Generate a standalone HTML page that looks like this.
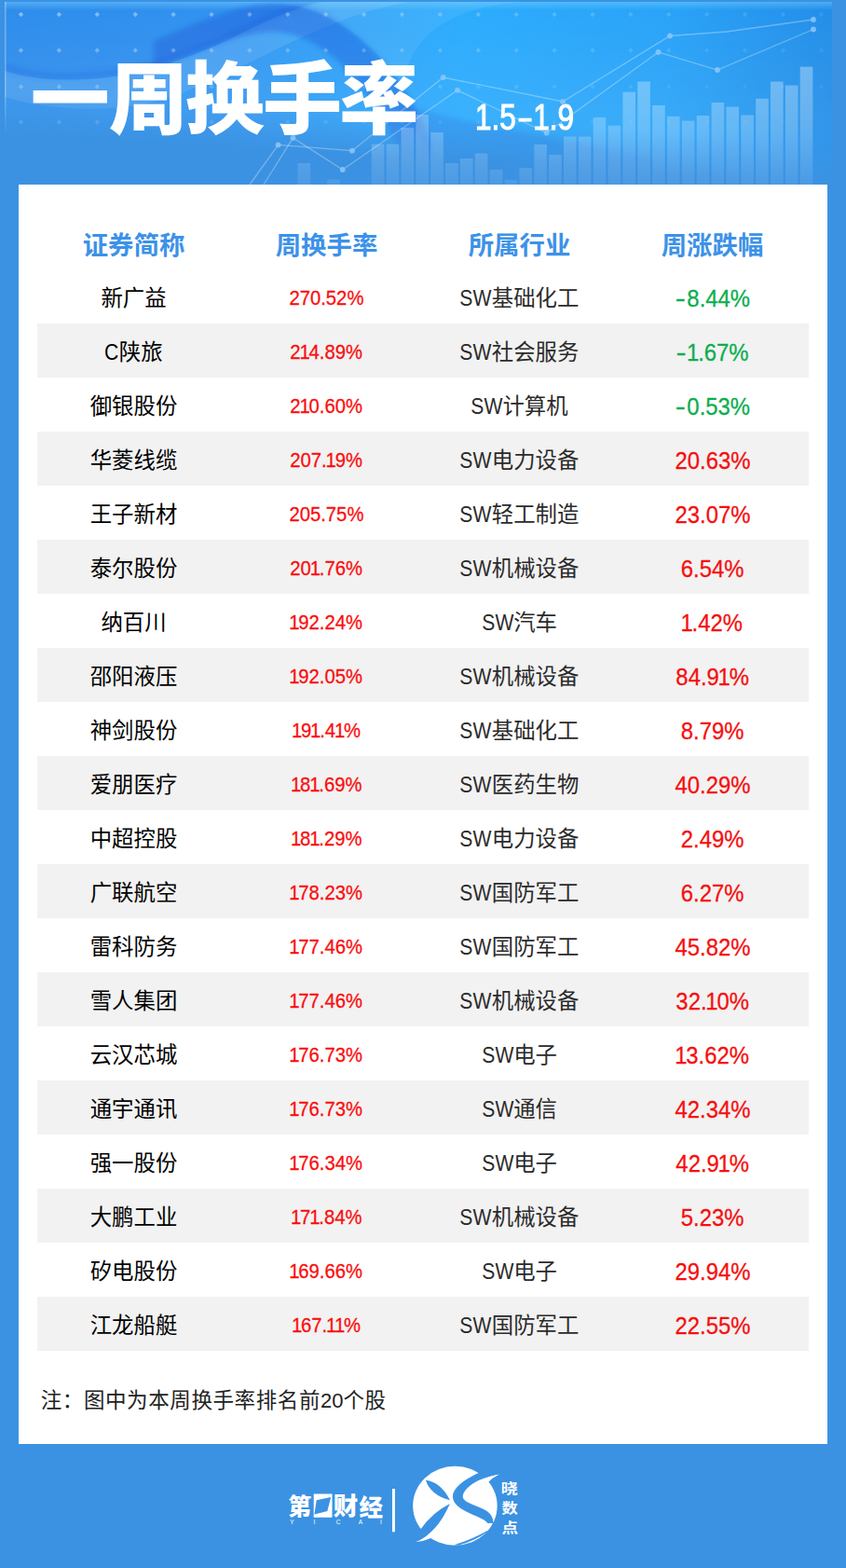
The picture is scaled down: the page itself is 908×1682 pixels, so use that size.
<!DOCTYPE html>
<html lang="zh-CN"><head><meta charset="utf-8"><title>一周换手率 1.5-1.9</title>
<style>
*{margin:0;padding:0;box-sizing:border-box}
html,body{width:908px;height:1682px;overflow:hidden}
body{position:relative;background:#3b92e2;font-family:"Liberation Sans","Noto Sans CJK SC",sans-serif;color:#111}
.vh{position:absolute;width:1px;height:1px;overflow:hidden;clip:rect(0 0 0 0);white-space:nowrap}
#banner{position:absolute;left:0;top:0;width:908px;height:200px}
#title{position:absolute;left:0;top:0;width:470px;height:200px;color:#fff;line-height:0}
#date{position:absolute;left:509.5px;top:104px;color:#fff;font-size:38px;-webkit-text-stroke:1.1px #fff;line-height:44px;white-space:nowrap;transform-origin:0 50%;transform:scaleX(.83)}
#card{position:absolute;left:20px;top:198px;width:868px;height:1351px;background:#fff}
.row{position:absolute;left:20px;width:828px;height:58px;display:flex}
.row.z{background:#f2f2f2}
.row>div{width:207px;height:58px;line-height:58px;text-align:center;white-space:nowrap;position:relative;top:2px}
.hd{color:#3c92e8;font-size:27.4px;font-weight:bold}
.c1{font-size:23.4px;color:#000}
.c2{font-size:22.5px;color:#fb0d0d;-webkit-text-stroke:.3px #fb0d0d}
.c2 span{display:inline-block;transform:scaleX(.9)}
.c3{font-size:23.4px;color:#2b2b2b}
.c4{font-size:26.5px;color:#f60f0f;-webkit-text-stroke:.3px currentColor}
.c4 span{display:inline-block;transform:scaleX(.9)}
.c4 b{font-weight:normal;display:inline-block;transform:scaleX(1.4);margin:0 3.5px 0 2px}
.c2 i,.c4 i{font-style:normal;margin:0 -1.3px}
.c3 .l,.c1 .l{font-size:24px;display:inline-block;transform:scaleX(.88);margin:0 -2.3px}
.c1 .l{margin:0 -1px}
.c4.dn{color:#0cae4e}
#note{position:absolute;left:23.7px;top:1290px;font-size:22.5px;letter-spacing:.6px;line-height:30px;color:#222;white-space:nowrap}
#note .l{font-size:22px;letter-spacing:0}
#date span{display:inline-block;transform:scaleX(.75);margin:0 -.5px 0 1.5px}
#logo{position:absolute;left:290px;top:1560px;width:300px;height:122px}
</style></head>
<body>
<svg id="banner" viewBox="0 0 908 200" aria-hidden="true">
<defs>
<linearGradient id="bg" x1="0" x2="1" y1="0" y2="0"><stop offset="0" stop-color="#3091ee"/><stop offset=".28" stop-color="#3598f2"/><stop offset=".55" stop-color="#2cacfd"/><stop offset=".8" stop-color="#29a3f8"/><stop offset="1" stop-color="#238ee8"/></linearGradient>
<linearGradient id="fade" gradientUnits="userSpaceOnUse" x1="450" y1="126" x2="447.4" y2="170"><stop offset="0" stop-color="#3b92e2" stop-opacity="0"/><stop offset="1" stop-color="#3b92e2" stop-opacity="1"/></linearGradient>
<linearGradient id="hm" x1="0" x2="1" y1="0" y2="0"><stop offset="0" stop-color="#fff"/><stop offset=".4" stop-color="#fff"/><stop offset=".7" stop-color="#999"/><stop offset="1" stop-color="#aaa"/></linearGradient>
<mask id="fm"><rect x="0" y="0" width="908" height="200" fill="url(#hm)"/></mask>
<linearGradient id="barg" gradientUnits="userSpaceOnUse" x1="0" x2="0" y1="70" y2="198"><stop offset="0" stop-color="#fff" stop-opacity=".33"/><stop offset=".55" stop-color="#fff" stop-opacity=".23"/><stop offset="1" stop-color="#fff" stop-opacity=".08"/></linearGradient>
<filter id="bl" x="-10%" y="-10%" width="120%" height="120%"><feGaussianBlur stdDeviation="2.5"/></filter>
<linearGradient id="vl" gradientUnits="userSpaceOnUse" x1="0" x2="0" y1="2" y2="120"><stop offset="0" stop-color="#fff" stop-opacity="0"/><stop offset="1" stop-color="#fff" stop-opacity=".07"/></linearGradient>
<linearGradient id="tl" x1="0" x2="0" y1="0" y2="1"><stop offset="0" stop-color="#7fd4ff" stop-opacity=".45"/><stop offset="1" stop-color="#7fd4ff" stop-opacity="0"/></linearGradient>
<clipPath id="bc"><rect x="5" y="2" width="888" height="196"/></clipPath>
</defs>
<rect x="5" y="2" width="888" height="196" fill="url(#bg)"/>
<g clip-path="url(#bc)">
<path d="M5 76C30 84 60 87 90 85C140 83 190 68 240 45C275 28 310 10 344 2L5 2Z" fill="#1f6fe0" opacity=".1"/>
<path d="M5 72C30 80 60 83 90 81C140 79 190 64 240 41C275 24 310 7 344 -1" fill="none" stroke="#1a60dc" stroke-width="7" opacity=".3" filter="url(#bl)"/>
<rect x="5" y="2" width="888" height="9" fill="url(#tl)"/>
<path d="M5 76C30 84 60 87 90 85C140 83 190 68 240 45C275 28 310 10 344 2L440 2C360 14 290 60 200 98C130 126 50 118 5 104Z" fill="#fff" opacity=".10"/>
<g filter="url(#bl)"><path d="M165 44C205 28 250 6 295 3C350 2 397 43 432 93C452 123 467 158 477 200L443 200C433 165 418 137 398 107C368 64 335 36 295 34C255 34 210 56 165 72Z" fill="#1250d8" opacity=".38"/><path d="M425 108C470 128 560 140 700 170L700 200L472 200C460 165 445 135 425 108Z" fill="#1c62d8" opacity=".24"/></g>
<path d="M240 2L560 2C480 8 440 40 432 92C400 45 350 4 295 4Z" fill="#fff" opacity=".07"/>
<rect x="5" y="2" width="888" height="196" fill="url(#vl)"/>
<rect x="5" y="2" width="1.6" height="150" fill="#fff" opacity=".3"/>
</g>
<rect x="5" y="2" width="888" height="196" fill="url(#fade)"/>
<g fill="#fff"><path d="M22.5 12.8l2.7 2.7-2.7 2.7-2.7-2.7z" opacity="0.42"/><path d="M63.4 12.8l2.7 2.7-2.7 2.7-2.7-2.7z" opacity="0.4"/><path d="M104.3 12.8l2.7 2.7-2.7 2.7-2.7-2.7z" opacity="0.39"/><path d="M145.2 12.8l2.7 2.7-2.7 2.7-2.7-2.7z" opacity="0.37"/><path d="M186.1 12.8l2.7 2.7-2.7 2.7-2.7-2.7z" opacity="0.36"/><path d="M227 12.8l2.7 2.7-2.7 2.7-2.7-2.7z" opacity="0.34"/><path d="M267.9 12.8l2.7 2.7-2.7 2.7-2.7-2.7z" opacity="0.32"/><path d="M308.8 12.8l2.7 2.7-2.7 2.7-2.7-2.7z" opacity="0.31"/><path d="M349.7 12.8l2.7 2.7-2.7 2.7-2.7-2.7z" opacity="0.29"/><path d="M390.6 12.8l2.7 2.7-2.7 2.7-2.7-2.7z" opacity="0.28"/><path d="M431.5 12.8l2.7 2.7-2.7 2.7-2.7-2.7z" opacity="0.26"/><path d="M472.4 12.8l2.7 2.7-2.7 2.7-2.7-2.7z" opacity="0.24"/><path d="M513.3 12.8l2.7 2.7-2.7 2.7-2.7-2.7z" opacity="0.23"/><path d="M554.2 12.8l2.7 2.7-2.7 2.7-2.7-2.7z" opacity="0.21"/><path d="M595.1 12.8l2.7 2.7-2.7 2.7-2.7-2.7z" opacity="0.2"/><path d="M636 12.8l2.7 2.7-2.7 2.7-2.7-2.7z" opacity="0.18"/><path d="M676.9 12.8l2.7 2.7-2.7 2.7-2.7-2.7z" opacity="0.16"/><path d="M717.8 12.8l2.7 2.7-2.7 2.7-2.7-2.7z" opacity="0.15"/><path d="M758.7 12.8l2.7 2.7-2.7 2.7-2.7-2.7z" opacity="0.13"/><path d="M799.6 12.8l2.7 2.7-2.7 2.7-2.7-2.7z" opacity="0.12"/><path d="M840.5 12.8l2.7 2.7-2.7 2.7-2.7-2.7z" opacity="0.1"/><path d="M881.4 12.8l2.7 2.7-2.7 2.7-2.7-2.7z" opacity="0.08"/><path d="M22.5 51.3l2.7 2.7-2.7 2.7-2.7-2.7z" opacity="0.33"/><path d="M63.4 51.3l2.7 2.7-2.7 2.7-2.7-2.7z" opacity="0.32"/><path d="M104.3 51.3l2.7 2.7-2.7 2.7-2.7-2.7z" opacity="0.3"/><path d="M145.2 51.3l2.7 2.7-2.7 2.7-2.7-2.7z" opacity="0.29"/><path d="M186.1 51.3l2.7 2.7-2.7 2.7-2.7-2.7z" opacity="0.28"/><path d="M227 51.3l2.7 2.7-2.7 2.7-2.7-2.7z" opacity="0.27"/><path d="M267.9 51.3l2.7 2.7-2.7 2.7-2.7-2.7z" opacity="0.25"/><path d="M308.8 51.3l2.7 2.7-2.7 2.7-2.7-2.7z" opacity="0.24"/><path d="M349.7 51.3l2.7 2.7-2.7 2.7-2.7-2.7z" opacity="0.23"/><path d="M390.6 51.3l2.7 2.7-2.7 2.7-2.7-2.7z" opacity="0.22"/><path d="M431.5 51.3l2.7 2.7-2.7 2.7-2.7-2.7z" opacity="0.2"/><path d="M472.4 51.3l2.7 2.7-2.7 2.7-2.7-2.7z" opacity="0.19"/><path d="M513.3 51.3l2.7 2.7-2.7 2.7-2.7-2.7z" opacity="0.18"/><path d="M554.2 51.3l2.7 2.7-2.7 2.7-2.7-2.7z" opacity="0.17"/><path d="M595.1 51.3l2.7 2.7-2.7 2.7-2.7-2.7z" opacity="0.15"/><path d="M636 51.3l2.7 2.7-2.7 2.7-2.7-2.7z" opacity="0.14"/><path d="M676.9 51.3l2.7 2.7-2.7 2.7-2.7-2.7z" opacity="0.13"/><path d="M717.8 51.3l2.7 2.7-2.7 2.7-2.7-2.7z" opacity="0.12"/><path d="M758.7 51.3l2.7 2.7-2.7 2.7-2.7-2.7z" opacity="0.1"/><path d="M799.6 51.3l2.7 2.7-2.7 2.7-2.7-2.7z" opacity="0.09"/><path d="M840.5 51.3l2.7 2.7-2.7 2.7-2.7-2.7z" opacity="0.08"/><path d="M881.4 51.3l2.7 2.7-2.7 2.7-2.7-2.7z" opacity="0.07"/><path d="M22.5 90.3l2.7 2.7-2.7 2.7-2.7-2.7z" opacity="0.24"/><path d="M63.4 90.3l2.7 2.7-2.7 2.7-2.7-2.7z" opacity="0.23"/><path d="M104.3 90.3l2.7 2.7-2.7 2.7-2.7-2.7z" opacity="0.22"/><path d="M145.2 90.3l2.7 2.7-2.7 2.7-2.7-2.7z" opacity="0.21"/><path d="M186.1 90.3l2.7 2.7-2.7 2.7-2.7-2.7z" opacity="0.2"/><path d="M227 90.3l2.7 2.7-2.7 2.7-2.7-2.7z" opacity="0.19"/><path d="M267.9 90.3l2.7 2.7-2.7 2.7-2.7-2.7z" opacity="0.18"/><path d="M308.8 90.3l2.7 2.7-2.7 2.7-2.7-2.7z" opacity="0.17"/><path d="M349.7 90.3l2.7 2.7-2.7 2.7-2.7-2.7z" opacity="0.16"/><path d="M390.6 90.3l2.7 2.7-2.7 2.7-2.7-2.7z" opacity="0.15"/><path d="M431.5 90.3l2.7 2.7-2.7 2.7-2.7-2.7z" opacity="0.15"/><path d="M472.4 90.3l2.7 2.7-2.7 2.7-2.7-2.7z" opacity="0.14"/><path d="M513.3 90.3l2.7 2.7-2.7 2.7-2.7-2.7z" opacity="0.13"/><path d="M554.2 90.3l2.7 2.7-2.7 2.7-2.7-2.7z" opacity="0.12"/><path d="M595.1 90.3l2.7 2.7-2.7 2.7-2.7-2.7z" opacity="0.11"/><path d="M636 90.3l2.7 2.7-2.7 2.7-2.7-2.7z" opacity="0.1"/><path d="M676.9 90.3l2.7 2.7-2.7 2.7-2.7-2.7z" opacity="0.09"/><path d="M717.8 90.3l2.7 2.7-2.7 2.7-2.7-2.7z" opacity="0.08"/><path d="M758.7 90.3l2.7 2.7-2.7 2.7-2.7-2.7z" opacity="0.07"/><path d="M799.6 90.3l2.7 2.7-2.7 2.7-2.7-2.7z" opacity="0.06"/><path d="M840.5 90.3l2.7 2.7-2.7 2.7-2.7-2.7z" opacity="0.06"/><path d="M881.4 90.3l2.7 2.7-2.7 2.7-2.7-2.7z" opacity="0.05"/><path d="M22.5 128.3l2.7 2.7-2.7 2.7-2.7-2.7z" opacity="0.14"/><path d="M63.4 128.3l2.7 2.7-2.7 2.7-2.7-2.7z" opacity="0.14"/><path d="M104.3 128.3l2.7 2.7-2.7 2.7-2.7-2.7z" opacity="0.13"/><path d="M145.2 128.3l2.7 2.7-2.7 2.7-2.7-2.7z" opacity="0.13"/><path d="M186.1 128.3l2.7 2.7-2.7 2.7-2.7-2.7z" opacity="0.12"/><path d="M227 128.3l2.7 2.7-2.7 2.7-2.7-2.7z" opacity="0.12"/><path d="M267.9 128.3l2.7 2.7-2.7 2.7-2.7-2.7z" opacity="0.11"/><path d="M308.8 128.3l2.7 2.7-2.7 2.7-2.7-2.7z" opacity="0.1"/><path d="M349.7 128.3l2.7 2.7-2.7 2.7-2.7-2.7z" opacity="0.1"/><path d="M390.6 128.3l2.7 2.7-2.7 2.7-2.7-2.7z" opacity="0.09"/><path d="M431.5 128.3l2.7 2.7-2.7 2.7-2.7-2.7z" opacity="0.09"/><path d="M472.4 128.3l2.7 2.7-2.7 2.7-2.7-2.7z" opacity="0.08"/><path d="M513.3 128.3l2.7 2.7-2.7 2.7-2.7-2.7z" opacity="0.08"/><path d="M554.2 128.3l2.7 2.7-2.7 2.7-2.7-2.7z" opacity="0.07"/><path d="M595.1 128.3l2.7 2.7-2.7 2.7-2.7-2.7z" opacity="0.07"/><path d="M636 128.3l2.7 2.7-2.7 2.7-2.7-2.7z" opacity="0.06"/><path d="M676.9 128.3l2.7 2.7-2.7 2.7-2.7-2.7z" opacity="0.06"/><path d="M717.8 128.3l2.7 2.7-2.7 2.7-2.7-2.7z" opacity="0.05"/><path d="M758.7 128.3l2.7 2.7-2.7 2.7-2.7-2.7z" opacity="0.04"/><path d="M799.6 128.3l2.7 2.7-2.7 2.7-2.7-2.7z" opacity="0.04"/><path d="M840.5 128.3l2.7 2.7-2.7 2.7-2.7-2.7z" opacity="0.03"/></g>
<g fill="url(#barg)"><rect x="319.5" y="175" width="13.6" height="23"/><rect x="351.22" y="192.6" width="13.6" height="5.4"/><rect x="398.8" y="154.6" width="13.6" height="43.4"/><rect x="414.66" y="154.6" width="13.6" height="43.4"/><rect x="430.52" y="137" width="13.6" height="61"/><rect x="446.38" y="123" width="13.6" height="75"/><rect x="462.24" y="142" width="13.6" height="56"/><rect x="478.1" y="175" width="13.6" height="23"/><rect x="493.96" y="170" width="13.6" height="28"/><rect x="509.82" y="164.5" width="13.6" height="33.5"/><rect x="525.68" y="182" width="13.6" height="16"/><rect x="541.54" y="193" width="13.6" height="5"/><rect x="557.4" y="180" width="13.6" height="18"/><rect x="573.26" y="155" width="13.6" height="43"/><rect x="589.12" y="166" width="13.6" height="32"/><rect x="604.98" y="146.5" width="13.6" height="51.5"/><rect x="620.84" y="146.5" width="13.6" height="51.5"/><rect x="636.7" y="126" width="13.6" height="72"/><rect x="652.56" y="134.7" width="13.6" height="63.3"/><rect x="668.42" y="98.7" width="13.6" height="99.3"/><rect x="684.28" y="87.5" width="13.6" height="110.5"/><rect x="700.14" y="113" width="13.6" height="85"/><rect x="716" y="124.8" width="13.6" height="73.2"/><rect x="731.86" y="129.6" width="13.6" height="68.4"/><rect x="747.72" y="124" width="13.6" height="74"/><rect x="763.58" y="110" width="13.6" height="88"/><rect x="779.44" y="114.6" width="13.6" height="83.4"/><rect x="795.3" y="123.5" width="13.6" height="74.5"/><rect x="811.16" y="105.8" width="13.6" height="92.2"/><rect x="827.02" y="87.5" width="13.6" height="110.5"/><rect x="842.88" y="91.6" width="13.6" height="106.4"/><rect x="858.74" y="71.6" width="13.6" height="126.4"/></g>
<g fill="none" stroke="#fff" stroke-opacity=".3" stroke-width="1.3"><polyline points="268,198 298.6,155.4 378,161.7 475.7,83 604,109 719,38.5 780,34 873,21"/><polyline points="283,198 314.5,148 367.7,182 491,96.8 586.6,142.5 706.5,56 770,75 873,31.5"/></g>
<g fill="#8cc6fa" opacity=".85"><circle cx="298.6" cy="155.4" r="2.9"/><circle cx="378" cy="161.7" r="2.9"/><circle cx="475.7" cy="83" r="2.9"/><circle cx="604" cy="109" r="2.9"/><circle cx="719" cy="38.5" r="2.9"/><circle cx="873" cy="21" r="2.9"/><circle cx="314.5" cy="148" r="2.9"/><circle cx="367.7" cy="182" r="2.9"/><circle cx="491" cy="96.8" r="2.9"/><circle cx="586.6" cy="142.5" r="2.9"/><circle cx="706.5" cy="56" r="2.9"/><circle cx="770" cy="75" r="2.9"/><circle cx="873" cy="31.5" r="2.9"/></g>
</svg>
<h1 id="title"><svg width="470" height="200" viewBox="0 0 470 200" fill="#fff"><text x="32.7 116.8 199 282 364.2" y="137" font-size="85" font-weight="900" font-family="'Liberation Sans','Noto Sans CJK SC',sans-serif" fill="#fff">一周换手率</text></svg></h1>
<div id="date">1.5<span>–</span>1.9</div>
<div id="card">
<div class="row" style="top:34.7px"><div class="hd">证券简称</div><div class="hd">周换手率</div><div class="hd">所属行业</div><div class="hd">周涨跌幅</div></div>
<div class="row" style="top:91px"><div class="c1">新广益</div><div class="c2"><span>270.52%</span></div><div class="c3"><span class="l">SW</span>基础化工</div><div class="c4 dn"><span><b>-</b>8.44%</span></div></div>
<div class="row z" style="top:149px"><div class="c1"><span class="l">C</span>陕旅</div><div class="c2"><span>2<i>1</i>4.89%</span></div><div class="c3"><span class="l">SW</span>社会服务</div><div class="c4 dn"><span><b>-</b><i>1</i>.67%</span></div></div>
<div class="row" style="top:207px"><div class="c1">御银股份</div><div class="c2"><span>2<i>1</i>0.60%</span></div><div class="c3"><span class="l">SW</span>计算机</div><div class="c4 dn"><span><b>-</b>0.53%</span></div></div>
<div class="row z" style="top:265px"><div class="c1">华菱线缆</div><div class="c2"><span>207.<i>1</i>9%</span></div><div class="c3"><span class="l">SW</span>电力设备</div><div class="c4"><span>20.63%</span></div></div>
<div class="row" style="top:323px"><div class="c1">王子新材</div><div class="c2"><span>205.75%</span></div><div class="c3"><span class="l">SW</span>轻工制造</div><div class="c4"><span>23.07%</span></div></div>
<div class="row z" style="top:381px"><div class="c1">泰尔股份</div><div class="c2"><span>20<i>1</i>.76%</span></div><div class="c3"><span class="l">SW</span>机械设备</div><div class="c4"><span>6.54%</span></div></div>
<div class="row" style="top:439px"><div class="c1">纳百川</div><div class="c2"><span><i>1</i>92.24%</span></div><div class="c3"><span class="l">SW</span>汽车</div><div class="c4"><span><i>1</i>.42%</span></div></div>
<div class="row z" style="top:497px"><div class="c1">邵阳液压</div><div class="c2"><span><i>1</i>92.05%</span></div><div class="c3"><span class="l">SW</span>机械设备</div><div class="c4"><span>84.9<i>1</i>%</span></div></div>
<div class="row" style="top:555px"><div class="c1">神剑股份</div><div class="c2"><span><i>1</i>9<i>1</i>.4<i>1</i>%</span></div><div class="c3"><span class="l">SW</span>基础化工</div><div class="c4"><span>8.79%</span></div></div>
<div class="row z" style="top:613px"><div class="c1">爱朋医疗</div><div class="c2"><span><i>1</i>8<i>1</i>.69%</span></div><div class="c3"><span class="l">SW</span>医药生物</div><div class="c4"><span>40.29%</span></div></div>
<div class="row" style="top:671px"><div class="c1">中超控股</div><div class="c2"><span><i>1</i>8<i>1</i>.29%</span></div><div class="c3"><span class="l">SW</span>电力设备</div><div class="c4"><span>2.49%</span></div></div>
<div class="row z" style="top:729px"><div class="c1">广联航空</div><div class="c2"><span><i>1</i>78.23%</span></div><div class="c3"><span class="l">SW</span>国防军工</div><div class="c4"><span>6.27%</span></div></div>
<div class="row" style="top:787px"><div class="c1">雷科防务</div><div class="c2"><span><i>1</i>77.46%</span></div><div class="c3"><span class="l">SW</span>国防军工</div><div class="c4"><span>45.82%</span></div></div>
<div class="row z" style="top:845px"><div class="c1">雪人集团</div><div class="c2"><span><i>1</i>77.46%</span></div><div class="c3"><span class="l">SW</span>机械设备</div><div class="c4"><span>32.<i>1</i>0%</span></div></div>
<div class="row" style="top:903px"><div class="c1">云汉芯城</div><div class="c2"><span><i>1</i>76.73%</span></div><div class="c3"><span class="l">SW</span>电子</div><div class="c4"><span><i>1</i>3.62%</span></div></div>
<div class="row z" style="top:961px"><div class="c1">通宇通讯</div><div class="c2"><span><i>1</i>76.73%</span></div><div class="c3"><span class="l">SW</span>通信</div><div class="c4"><span>42.34%</span></div></div>
<div class="row" style="top:1019px"><div class="c1">强一股份</div><div class="c2"><span><i>1</i>76.34%</span></div><div class="c3"><span class="l">SW</span>电子</div><div class="c4"><span>42.9<i>1</i>%</span></div></div>
<div class="row z" style="top:1077px"><div class="c1">大鹏工业</div><div class="c2"><span><i>1</i>7<i>1</i>.84%</span></div><div class="c3"><span class="l">SW</span>机械设备</div><div class="c4"><span>5.23%</span></div></div>
<div class="row" style="top:1135px"><div class="c1">矽电股份</div><div class="c2"><span><i>1</i>69.66%</span></div><div class="c3"><span class="l">SW</span>电子</div><div class="c4"><span>29.94%</span></div></div>
<div class="row z" style="top:1193px"><div class="c1">江龙船艇</div><div class="c2"><span><i>1</i>67.<i>1</i><i>1</i>%</span></div><div class="c3"><span class="l">SW</span>国防军工</div><div class="c4"><span>22.55%</span></div></div>
<div id="note">注：图中为本周换手率排名前<span class="l">20</span>个股</div>
</div>
<svg id="logo" viewBox="290 1560 300 122" role="img" aria-label="第一财经 YICAI 晓数点"><title>第一财经 YICAI 晓数点</title>
<g fill="#fff" font-family="'Liberation Sans','Noto Sans CJK SC',sans-serif" font-weight="900"><text x="309.3" y="1625.4" font-size="25">第</text><text x="357.8" y="1625.4" font-size="26.5">财</text><text x="385.6" y="1625.8" font-size="25.5">经</text><path fill-rule="evenodd" d="M336.7 1602.6H356.5V1627.7H336.7Z M339.7 1609.2L355.2 1605.9L351.3 1621.1L337.4 1624.4Z"/><rect x="421" y="1597" width="2.9" height="46.3"/><g font-weight="bold" font-size="18"><text transform="translate(537.7 1602.1) scale(1 .8)">晓</text><text transform="translate(538.5 1622.9) scale(.96 .79)">数</text><text transform="translate(538.4 1643.8) scale(.98 .8)">点</text></g></g>
<g fill="#fff" font-family="'Liberation Sans',sans-serif" font-size="6.5" text-anchor="middle"><text x="313.5" y="1634.8">Y</text><text x="337.5" y="1634.8">I</text><text x="363" y="1634.8">C</text><text x="386.8" y="1634.8">A</text><text x="409" y="1634.8">I</text></g>
<g transform="translate(438 1566) scale(0.114548)"><ellipse cx="440" cy="430" rx="395" ry="370" fill="#fff"/><path fill="#fff" d="M740 220Q790 165 858 133Q700 150 560 260L700 320Z"/><path fill="#fff" d="M68 769Q270 690 392 410L420 600L300 700L205 735Q150 760 68 769Z"/><g fill="#3b92e2"><path d="M662 122C540 175 420 260 418 340C418 420 500 465 600 510C680 544 728 566 748 596Q770 588 797 597C803 530 760 485 700 458C600 414 515 392 513 345C512 290 600 180 858 133L858 110L662 100Z"/><path d="M165 190Q310 210 392 378Q210 330 165 190Z"/><path d="M392 410Q230 490 118 648L30 740L68 769Q270 690 392 410Z"/><path d="M742 664Q606 742 425 799L475 799Q622 760 742 674Z"/></g></g>
</svg>
</body></html>
